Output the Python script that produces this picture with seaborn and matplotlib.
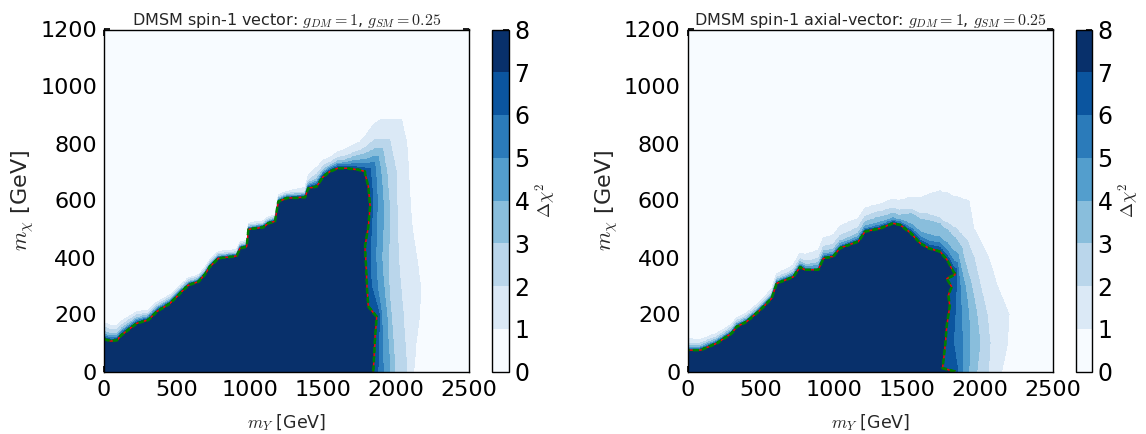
import numpy as np
import matplotlib
matplotlib.use("Agg")
import matplotlib.pyplot as plt
from matplotlib.colors import ListedColormap, BoundaryNorm
import seaborn as sns

# ---------------- data (all values in GeV) ----------------
titles = [r"DMSM spin-1 vector: $g_{DM}=1$, $g_{SM}=0.25$",
          r"DMSM spin-1 axial-vector: $g_{DM}=1$, $g_{SM}=0.25$"]
x_ticks = [0, 500, 1000, 1500, 2000, 2500]
y_ticks = [0, 200, 400, 600, 800, 1000, 1200]
cbar_levels = [0, 1, 2, 3, 4, 5, 6, 7, 8]

# --- vector: boundary of the Delta chi^2 > 7 region (upper edge as function of m_Y)
vec_top_x = [0, 50, 90, 120, 178, 224, 303, 360, 452, 520, 577, 646, 690, 725, 782,
             908, 931, 976, 988, 1090, 1125, 1170, 1193, 1250, 1376, 1398, 1455,
             1501, 1547, 1600, 1664, 1740, 1800]
vec_top_y = [113, 107, 110, 128, 151, 169, 181, 210, 239, 274, 303, 315, 340, 368, 397,
             405, 432, 438, 499, 506, 520, 527, 596, 608, 611, 643, 649,
             684, 702, 713, 713, 708, 700]
# right edge as function of m_chi
vec_right_y = [0, 120, 192, 228, 290, 356, 438, 509, 579, 649, 695]
vec_right_x = [1843, 1855, 1866, 1809, 1800, 1795, 1786, 1809, 1821, 1809, 1786]
# lower contour levels 1..6: height above the Delta chi^2 = 7 edge ...
vec_off_x = [0, 300, 600, 1000, 1250, 1370, 1450, 1550, 1650, 1750, 1850, 1900, 2050]
vec_off_lvl1 = [58, 35, 25, 22, 24, 34, 67, 49, 67, 98, 170, 185, 185]
vec_off_lvl2 = [42, 25, 18, 15, 17, 19, 42, 32, 42, 68, 112, 115, 115]
vec_off_lvl3 = [27, 18, 12, 10, 12, 14, 27, 22, 29, 53, 80, 80, 80]
vec_off_lvl4 = [18, 12, 8, 7, 8, 10, 18, 15, 20, 35, 55, 55, 55]
vec_off_lvl5 = [12, 8, 5, 5, 5, 7, 12, 10, 13, 22, 35, 35, 35]
vec_off_lvl6 = [6, 4, 3, 3, 3, 4, 6, 5, 6, 10, 15, 15, 15]
# ... and right edge of each level
vec_band_y = [0, 100, 200, 300, 400, 500, 600, 700, 800, 900]
vec_right_lvl1 = [2120, 2135, 2160, 2165, 2140, 2110, 2095, 2085, 2072, 2030]
vec_right_lvl2 = [2072, 2060, 2048, 2030, 2014, 2010, 2005, 2000, 1960, 1930]
vec_right_lvl3 = [1990, 1980, 1965, 1950, 1945, 1955, 1950, 1935, 1900, 1870]
vec_right_lvl4 = [1957, 1945, 1935, 1915, 1900, 1910, 1910, 1895, 1860, 1840]
vec_right_lvl5 = [1912, 1905, 1900, 1870, 1860, 1865, 1870, 1860, 1830, 1820]
vec_right_lvl6 = [1875, 1880, 1885, 1830, 1820, 1830, 1840, 1825, 1800, 1800]

# --- axial-vector
axv_top_x = [0, 85, 200, 302, 337, 405, 485, 542, 576, 610, 724, 770, 805, 895, 930,
             998, 1044, 1135, 1169, 1215, 1317, 1407, 1456, 1530, 1592, 1653, 1728,
             1777, 1826]
axv_top_y = [74, 74, 99, 134, 157, 175, 210, 239, 257, 309, 332, 366, 356, 356, 397,
             404, 433, 450, 456, 491, 502, 520, 514, 485, 450, 432, 421,
             391, 345]
axv_right_y = [0, 12, 40, 100, 160, 230, 268, 297, 326, 340]
axv_right_x = [1830, 1745, 1752, 1765, 1774, 1795, 1785, 1808, 1774, 1831]
axv_off_x = [0, 300, 500, 700, 900, 1100, 1300, 1450, 1550, 1650, 1750, 1830, 1950]
axv_off_lvl1 = [41, 32, 30, 38, 70, 80, 85, 85, 136, 189, 220, 270, 250]
axv_off_lvl2 = [26, 22, 20, 23, 40, 45, 60, 50, 91, 119, 117, 160, 95]
axv_off_lvl3 = [18, 15, 13, 15, 25, 25, 40, 33, 76, 97, 97, 125, 35]
axv_off_lvl4 = [12, 9, 8, 10, 15, 15, 22, 17, 36, 47, 52, 75, 15]
axv_off_lvl5 = [7, 6, 5, 6, 8, 8, 12, 10, 20, 25, 30, 40, 10]
axv_off_lvl6 = [3, 3, 2, 3, 4, 4, 6, 5, 10, 12, 14, 18, 5]
axv_band_y = [0, 100, 200, 300, 400, 500, 600, 700]
axv_right_lvl1 = [2150, 2190, 2200, 2120, 2060, 1960, 1925, 1900]
axv_right_lvl2 = [2060, 2070, 2050, 2005, 1960, 1880, 1820, 1800]
axv_right_lvl3 = [1980, 2000, 1980, 1945, 1890, 1850, 1800, 1780]
axv_right_lvl4 = [1925, 1930, 1925, 1900, 1855, 1830, 1780, 1760]
axv_right_lvl5 = [1885, 1880, 1875, 1865, 1845, 1820, 1770, 1750]
axv_right_lvl6 = [1850, 1820, 1830, 1840, 1840, 1810, 1760, 1740]

panels = [
    dict(title=titles[0], top_x=vec_top_x, top_y=vec_top_y,
         right_y=vec_right_y, right_x=vec_right_x, off_x=vec_off_x,
         offs=[vec_off_lvl1, vec_off_lvl2, vec_off_lvl3, vec_off_lvl4, vec_off_lvl5, vec_off_lvl6],
         band_y=vec_band_y,
         rights=[vec_right_lvl1, vec_right_lvl2, vec_right_lvl3, vec_right_lvl4, vec_right_lvl5, vec_right_lvl6]),
    dict(title=titles[1], top_x=axv_top_x, top_y=axv_top_y,
         right_y=axv_right_y, right_x=axv_right_x, off_x=axv_off_x,
         offs=[axv_off_lvl1, axv_off_lvl2, axv_off_lvl3, axv_off_lvl4, axv_off_lvl5, axv_off_lvl6],
         band_y=axv_band_y,
         rights=[axv_right_lvl1, axv_right_lvl2, axv_right_lvl3, axv_right_lvl4, axv_right_lvl5, axv_right_lvl6]),
]


def build_field(p):
    xg = np.linspace(0, 2500, 1251)
    yg = np.linspace(0, 1200, 601)
    X, Y = np.meshgrid(xg, yg)
    Z = np.zeros_like(X)
    t7 = np.interp(xg, p["top_x"], p["top_y"])
    r7 = np.interp(yg, p["right_y"], p["right_x"])
    for k in range(6):
        tk = t7 + np.interp(xg, p["off_x"], p["offs"][k])
        rk = np.interp(yg, p["band_y"], p["rights"][k])
        Z[(Y <= tk[None, :]) & (X <= rk[:, None])] = k + 1
    Z[(Y <= t7[None, :]) & (X <= r7[:, None])] = 7
    return xg, yg, Z + 0.5


# ---------------- style ----------------
sns.set_theme(style="ticks")
plt.rcParams.update({
    "font.family": ["DejaVu Sans"],
    "mathtext.fontset": "cm",
    "axes.edgecolor": "black",
    "axes.linewidth": 1.0,
    "xtick.direction": "in",
    "ytick.direction": "in",
    "xtick.top": True,
    "ytick.right": True,
    "xtick.major.size": 4,
    "ytick.major.size": 4,
    "xtick.color": "black",
    "ytick.color": "black",
    "xtick.labelsize": 16,
    "ytick.labelsize": 16,
    "xtick.major.pad": 6,
    "ytick.major.pad": 5,
})

blues = sns.color_palette("Blues", as_cmap=True)
band_colors = [blues(v) for v in np.linspace(0, 1, len(cbar_levels) - 1)]
cmap = ListedColormap(band_colors)
norm = BoundaryNorm(cbar_levels, cmap.N)

W, H = 1146, 434
fig = plt.figure(figsize=(W / 100, H / 100), dpi=100)
ax_rects = [[104 / W, 62.5 / H, 365.3 / W, 342 / H],
            [687.5 / W, 62.5 / H, 365.3 / W, 342 / H]]
cax_rects = [[492 / W, 62.5 / H, 17 / W, 342 / H],
             [1076 / W, 62.5 / H, 16 / W, 342 / H]]

for p, r, cr in zip(panels, ax_rects, cax_rects):
    ax = fig.add_axes(r)
    cax = fig.add_axes(cr)
    xg, yg, Z = build_field(p)
    cs = ax.contourf(xg, yg, Z, levels=cbar_levels, cmap=cmap, norm=norm)
    ax.contour(xg, yg, Z, levels=[7.0], colors="red", linewidths=1.0)
    ax.contour(xg, yg, Z, levels=[7.0], colors="green", linewidths=1.8,
               linestyles=[(0, (2.5, 1.2))])
    ax.set_xlim(0, 2500)
    ax.set_ylim(0, 1200)
    ax.set_xticks(x_ticks)
    ax.set_yticks(y_ticks)
    ax.set_title(p["title"], fontsize=11.5, pad=3)
    ax.set_xlabel(r"$m_Y$ [GeV]", fontsize=12.5, labelpad=9)
    ax.set_ylabel(r"$m_\chi$ [GeV]", fontsize=16, labelpad=3)
    cb = fig.colorbar(cs, cax=cax, ticks=cbar_levels)
    cb.outline.set_edgecolor("black")
    cb.outline.set_linewidth(1.0)
    cax.tick_params(direction="in", length=4, labelsize=17, right=True, left=False, pad=4)
    cb.set_label(r"$\Delta\chi^2$", fontsize=13, labelpad=3)

fig.savefig("out.png", dpi=100)
